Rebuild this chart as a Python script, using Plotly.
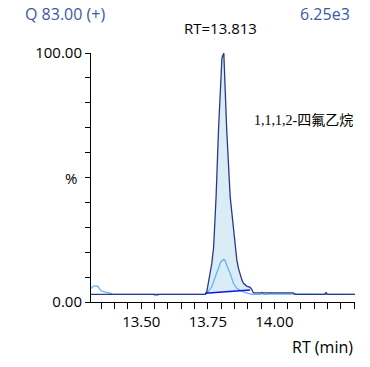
import plotly.graph_objects as go

# ---- data (RT in min, intensity in % of 6.25e3) ----
quant_rt = [13.311, 13.740, 13.746, 13.752, 13.759, 13.765, 13.769, 13.771, 13.775,
            13.781, 13.790, 13.803, 13.810, 13.821, 13.834, 13.846, 13.856, 13.859,
            13.865, 13.871, 13.878, 13.884, 13.896, 13.909, 13.915, 13.921, 14.071,
            14.077, 14.190, 14.194, 14.198, 14.303]
quant_int = [3.1, 3.1, 4.1, 7.5, 11.5, 15.5, 19.5, 20.8, 28.9,
             42.2, 68.9, 98.0, 100.0, 68.9, 42.2, 28.9, 20.8, 16.8,
             13.5, 10.8, 8.8, 7.5, 6.4, 5.9, 5.1, 3.7, 3.7,
             3.1, 3.1, 3.9, 3.1, 3.1]

qual_rt = [13.311, 13.321, 13.336, 13.342, 13.348, 13.361, 13.373, 13.386, 13.392,
           13.549, 13.550, 13.563, 13.564, 13.740, 13.746, 13.765, 13.778, 13.790,
           13.799, 13.810, 13.815, 13.821, 13.834, 13.846, 13.859, 13.871, 13.884,
           13.902, 13.915, 13.948, 13.953, 13.958, 13.980, 13.984, 13.990, 14.000,
           14.070, 14.077, 14.303]
qual_int = [5.5, 6.4, 6.4, 5.2, 4.5, 4.1, 3.9, 3.5, 3.1,
            3.1, 2.7, 2.7, 3.1, 3.1, 3.5, 6.1, 10.1, 14.1,
            16.2, 17.1, 16.6, 14.8, 11.5, 7.5, 5.5, 4.8, 4.1,
            3.5, 3.1, 3.1, 3.9, 3.1, 3.1, 3.7, 3.1, 3.3,
            3.3, 3.1, 3.1]

baseline_rt = [13.740, 13.909]
baseline_int = [3.5, 4.8]

peak_rt = 13.813
peak_label = "RT=13.813"
compound = "1,1,1,2-四氟乙烷"
trace_title = "Q 83.00 (+)"
max_intensity = "6.25e3"

x_range = [13.311, 14.303]
x_ticks = [round(13.35 + 0.05 * i, 2) for i in range(20)]
x_labels = {13.5: "13.50", 13.75: "13.75", 14.0: "14.00"}
y_ticks = list(range(0, 101, 10))
y_labels = {0: "0.00", 100: "100.00"}

DARK = "#2a3a88"
LIGHT = "#66b0f2"
FILL = "#daedf6"
BASE = "#0c18e0"
TXT_BLUE = "#3a5aa6"
FONT = "Open Sans"

# fill region of integrated peak
fill_x = [t for t in quant_rt if baseline_rt[0] <= t <= baseline_rt[1]]
fill_y = [v for t, v in zip(quant_rt, quant_int) if baseline_rt[0] <= t <= baseline_rt[1]]

fig = go.Figure()
fig.add_trace(go.Scatter(x=baseline_rt, y=baseline_int, mode="lines",
                         line=dict(width=0, color=FILL), hoverinfo="skip", showlegend=False))
fig.add_trace(go.Scatter(x=fill_x, y=fill_y, mode="lines", fill="tonexty",
                         fillcolor=FILL, line=dict(width=0, color=FILL),
                         hoverinfo="skip", showlegend=False))
fig.add_trace(go.Scatter(x=qual_rt, y=qual_int, mode="lines",
                         line=dict(color=LIGHT, width=1.3), showlegend=False))
fig.add_trace(go.Scatter(x=quant_rt, y=quant_int, mode="lines",
                         line=dict(color=DARK, width=1.3), showlegend=False))
fig.add_trace(go.Scatter(x=baseline_rt, y=baseline_int, mode="lines",
                         line=dict(color=BASE, width=1.4), showlegend=False))
fig.add_trace(go.Scatter(x=[peak_rt], y=[103.6], mode="markers",
                         marker=dict(symbol="triangle-down", size=10, color="#1c2a5e"),
                         cliponaxis=False, showlegend=False))

fig.update_layout(
    template="none",
    width=370, height=367,
    margin=dict(l=91, r=15, t=53, b=65),
    paper_bgcolor="white", plot_bgcolor="white",
    font=dict(family=FONT, size=15, color="black"),
    showlegend=False,
)
fig.update_xaxes(
    range=x_range, showgrid=False, zeroline=False, automargin=False,
    showline=True, linecolor="black", linewidth=1,
    ticks="outside", ticklen=6, tickcolor="black", tickwidth=1,
    tickvals=x_ticks, ticktext=[x_labels.get(round(t, 2), "") for t in x_ticks],
    tickfont=dict(family=FONT, size=15, color="black"),
)
fig.update_yaxes(
    range=[0, 100], showgrid=False, zeroline=False, automargin=False,
    showline=True, linecolor="black", linewidth=1,
    ticks="outside", ticklen=5, tickcolor="black", tickwidth=1,
    tickvals=y_ticks, ticktext=[y_labels.get(t, "") for t in y_ticks],
    tickfont=dict(family=FONT, size=15, color="black"),
)

ann = dict(showarrow=False, xref="paper", yref="paper")
fig.add_annotation(text=trace_title, x=-0.2576, y=1.158, xanchor="left", yanchor="middle",
                   font=dict(family=FONT, size=16, color=TXT_BLUE), **ann)
fig.add_annotation(text=max_intensity, x=0.9886, y=1.158, xanchor="right", yanchor="middle",
                   font=dict(family=FONT, size=16, color=TXT_BLUE), **ann)
fig.add_annotation(text="%", x=-0.0758, y=0.5, xanchor="center", yanchor="middle",
                   font=dict(family=FONT, size=15, color="black"), **ann)
fig.add_annotation(text="RT (min)", x=1.0, y=-0.18, xanchor="right", yanchor="middle",
                   font=dict(family=FONT, size=16, color="black"), **ann)
fig.add_annotation(text=compound, x=0.6087, y=0.7295, xanchor="left", yanchor="middle",
                   font=dict(family="Liberation Serif, Noto Sans CJK SC", size=14, color="black"), **ann)
fig.add_annotation(text=peak_label, x=peak_rt, xref="x", y=1.102, yref="paper",
                   xanchor="center", yanchor="middle", showarrow=False, xshift=-4,
                   font=dict(family=FONT, size=15, color="black"))

fig.write_html("out.html", config={"displayModeBar": False},
               post_script="document.body.style.margin='0';")
